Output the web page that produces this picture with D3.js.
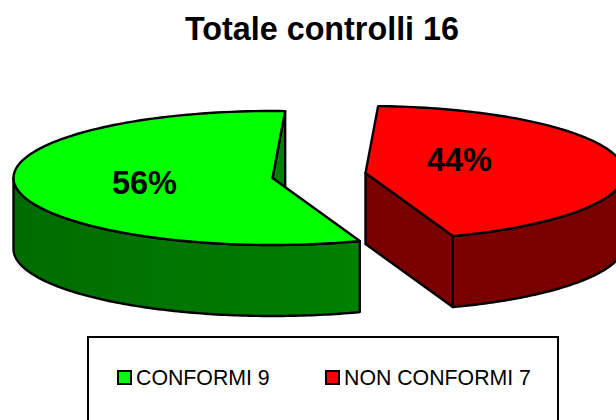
<!DOCTYPE html>
<html><head><meta charset="utf-8">
<script src="https://cdn.jsdelivr.net/npm/d3@7"></script>
<style>html,body{margin:0;padding:0;background:#fff;overflow:hidden}svg{display:block}text{font-family:"Liberation Sans",Arial,sans-serif;fill:#000}</style>
</head><body><svg id="c" width="616" height="420"></svg>
<script>
const chartTitle = "Totale controlli 16";
const categories = ["CONFORMI 9", "NON CONFORMI 7"];
const values = [9, 7];
const percentLabels = ["56%", "44%"];
const topColors = ["#00ff00", "#ff0000"];
const sideStops = [["#006c00", "#008000"], ["#7a0000", "#7a0000"]];
const cutColors = ["#008000", "#7a0000"];

const svg = d3.select("#c");
const rx = 259, ry = 67, depth = 71;
const centers = [[272.5, 178], [365.5, 173]];
const labelPos = [[144.5, 194], [459.5, 171]];
const legendX = [118, 326];

const defs = svg.append("defs");
sideStops.forEach((s, i) => {
  const lg = defs.append("linearGradient").attr("id", "side" + i);
  lg.append("stop").attr("offset", "0").attr("stop-color", s[0]);
  lg.append("stop").attr("offset", "1").attr("stop-color", s[1]);
});

const startDeg = 160.3;
const pie = d3.pie().sort(null).value(d => d)
  .startAngle(startDeg * Math.PI / 180)
  .endAngle((startDeg + 360) * Math.PI / 180);
const arcs = pie(values);

const line = d3.line();
const proj = (c, a, dz = 0) => [c[0] + rx * Math.sin(a), c[1] - ry * Math.cos(a) + dz];
const sample = (c, a0, a1, dz) => d3.range(0, 121).map(i => proj(c, a0 + (a1 - a0) * i / 120, dz));
const stroke = s => s.attr("stroke", "#000").attr("stroke-width", 2.4).attr("stroke-linejoin", "round");

const g = svg.append("g");
arcs.forEach((d, i) => {
  const c = centers[i];
  const a0 = d.startAngle, a1 = d.endAngle;
  // outer wall: only the part of the rim that faces the viewer
  const wa0 = i === 0 ? a0 : Math.PI * 2.5;
  const wa1 = i === 0 ? Math.PI * 1.5 : a1;
  const wallTop = sample(c, wa0, wa1, 0), wallBot = sample(c, wa1, wa0, depth);
  const pEnd = proj(c, a1);
  if (i === 0) {
    // cut wall seen through the notch, behind the top face
    stroke(g.append("path").attr("fill", cutColors[0])
      .attr("d", line([pEnd, c, [pEnd[0], c[1] + 10]]) + "Z"));
  } else {
    stroke(g.append("path").attr("fill", cutColors[1])
      .attr("d", line([c, pEnd, [pEnd[0], pEnd[1] + depth], [c[0], c[1] + depth]]) + "Z"));
  }
  stroke(g.append("path").attr("fill", `url(#side${i})`).attr("d", line(wallTop.concat(wallBot)) + "Z"));
  stroke(g.append("path").attr("fill", topColors[i]).attr("d", line([c].concat(sample(c, a0, a1, 0))) + "Z"));
  g.append("text").attr("x", labelPos[i][0]).attr("y", labelPos[i][1])
    .attr("text-anchor", "middle").attr("font-size", 32.5).attr("font-weight", "bold").text(percentLabels[i]);
});

svg.append("text").attr("x", 322).attr("y", 40).attr("text-anchor", "middle")
  .attr("font-size", 32.3).attr("font-weight", "bold").text(chartTitle);

// legend box runs off the bottom of the picture
svg.append("rect").attr("x", 88).attr("y", 337).attr("width", 470).attr("height", 100)
  .attr("fill", "none").attr("stroke", "#000").attr("stroke-width", 2);
categories.forEach((t, i) => {
  svg.append("rect").attr("x", legendX[i]).attr("y", 371).attr("width", 13).attr("height", 13)
    .attr("fill", topColors[i]).attr("stroke", "#000").attr("stroke-width", 2);
  svg.append("text").attr("x", legendX[i] + 18).attr("y", 385).attr("font-size", 21.3).text(t);
});
</script></body></html>
